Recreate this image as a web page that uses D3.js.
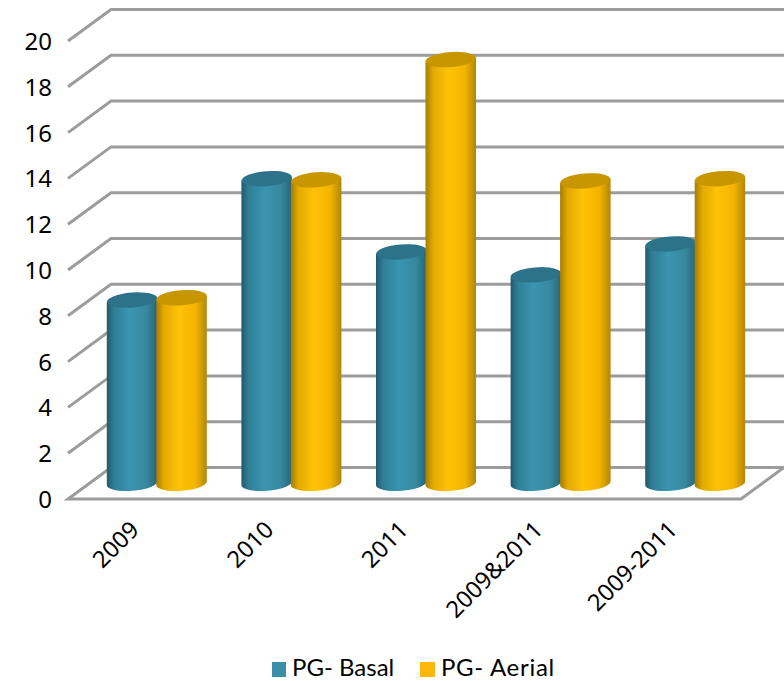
<!DOCTYPE html>
<html>
<head>
<meta charset="utf-8">
<script src="https://cdn.jsdelivr.net/npm/d3@7"></script>
<style>
  html, body { margin: 0; padding: 0; background: #fff; }
  svg { display: block; }
  text { font-family: Lato, "Open Sans", sans-serif; fill: #000; }
  .axis text { font-family: "Noto Sans", sans-serif; }
</style>
</head>
<body>
<svg id="chart" width="784" height="681"></svg>
<script>
const categories = ["2009", "2010", "2011", "2009&2011", "2009-2011"];
const seriesNames = ["PG- Basal", "PG- Aerial"];
const basalValues = [8.0, 13.3, 10.1, 9.1, 10.45];
const aerialValues = [8.1, 13.25, 18.5, 13.2, 13.3];
const yTicks = [0, 2, 4, 6, 8, 10, 12, 14, 16, 18, 20];
const seriesValues = [basalValues, aerialValues];

const svg = d3.select("#chart");

// Oblique projection of the chart box: the back wall sits up and to the right of the front edge.
const depth = { dx: 43, dy: -31.5 };
const frontLeft = 68, frontRight = 741;
const y = d3.scaleLinear().domain([0, 20]).range([467.5, 9.5]);
const x = d3.scaleBand().domain(categories)
  .range([frontLeft + depth.dx / 2, frontRight + depth.dx / 2]);
const barWidth = 50.5;
const barStep = 49.5;
const rx = barWidth / 2, ry = 7.5, tilt = -4.5;
const tiltDy = rx * Math.sin(-tilt * Math.PI / 180);
const midOffset = -depth.dy / 2;

const defs = svg.append("defs");
const palettes = [
  { id: "cyl-basal", top: "#2c7389", stops: [[0, "#215a6c"], [0.14, "#2f7e96"], [0.45, "#3a95b1"], [0.78, "#37899f"], [1, "#276678"]] },
  { id: "cyl-aerial", top: "#c79600", stops: [[0, "#a67c05"], [0.15, "#e3aa00"], [0.45, "#ffc208"], [0.78, "#f3b400"], [1, "#b1870a"]] }
];
palettes.forEach(p => {
  const g = defs.append("linearGradient").attr("id", p.id)
    .attr("x1", 0).attr("x2", 1).attr("y1", 0).attr("y2", 0);
  p.stops.forEach(s => g.append("stop").attr("offset", s[0]).attr("stop-color", s[1]));
});

// Gridlines: a slanted stroke on the side wall joined to a long stroke on the back wall.
const gridColor = "#9c9c9c";
svg.append("g").selectAll("path").data(yTicks.filter(t => t > 0)).join("path")
  .attr("d", t => `M${frontLeft},${y(t) - depth.dy}L${frontLeft + depth.dx},${y(t)}L784,${y(t)}`)
  .attr("fill", "none").attr("stroke", gridColor).attr("stroke-width", 3);

// Floor of the box.
svg.append("path")
  .attr("d", `M${frontLeft},${y(0) - depth.dy}L${frontRight},${y(0) - depth.dy}L${frontRight + depth.dx},${y(0)}L${frontLeft + depth.dx},${y(0)}Z`)
  .attr("fill", "none").attr("stroke", gridColor).attr("stroke-width", 3).attr("stroke-linejoin", "miter");

// Cylinders, basal series first so the aerial series overlaps it.
seriesValues.forEach((values, si) => {
  const group = svg.append("g");
  const pal = palettes[si];
  const cells = group.selectAll("g").data(values).join("g");
  const cx = (d, i) => x(categories[i]) + x.bandwidth() / 2 + (si === 0 ? -barStep / 2 : barStep / 2);
  const topY = d => y(d) + midOffset;
  const baseY = y(0) + midOffset;
  cells.append("path")
    .attr("d", (d, i) => {
      const c = cx(d, i);
      return `M${c - rx},${topY(d) + tiltDy}L${c - rx},${baseY + tiltDy}` +
        `A${rx},${ry} ${tilt} 0 0 ${c + rx},${baseY - tiltDy}` +
        `L${c + rx},${topY(d) - tiltDy}Z`;
    })
    .attr("fill", `url(#${pal.id})`);
  cells.append("ellipse")
    .attr("rx", rx).attr("ry", ry)
    .attr("transform", (d, i) => `translate(${cx(d, i)},${topY(d)}) rotate(${tilt})`)
    .attr("fill", pal.top);
});

// Value axis, set on the front edge of the side wall.
const yAxis = svg.append("g").attr("class", "axis")
  .attr("transform", `translate(${frontLeft - 8},${-depth.dy})`)
  .call(d3.axisLeft(y).tickValues(yTicks).tickSize(0).tickPadding(8));
yAxis.select(".domain").remove();
yAxis.selectAll("text").style("font-size", "24px").attr("dy", "0.35em");

// Category axis with slanted labels.
const xAxis = svg.append("g").attr("class", "axis")
  .attr("transform", `translate(${-depth.dx / 2},${y(0) - depth.dy})`)
  .call(d3.axisBottom(x).tickSize(0));
xAxis.select(".domain").remove();
xAxis.selectAll("text")
  .style("font-size", "23.5px")
  .attr("text-anchor", "end")
  .attr("dx", 0).attr("dy", 0)
  .attr("transform", "translate(3,30) rotate(-45)");

// Legend.
const legendItems = [
  { x: 272, w: 14, textX: 292, spacing: 0 },
  { x: 420, w: 15, textX: 441, spacing: 0.7 }
];
const legend = svg.append("g");
const legendColors = ["#3a8fa8", "#ffb80a"];
seriesNames.forEach((name, i) => {
  const it = legendItems[i];
  legend.append("rect").attr("x", it.x).attr("y", 662).attr("width", it.w).attr("height", 15)
    .attr("fill", legendColors[i]);
  legend.append("text").attr("x", it.textX).attr("y", 676)
    .style("font-size", "24px").style("letter-spacing", it.spacing + "px").text(name);
});
</script>
</body>
</html>
